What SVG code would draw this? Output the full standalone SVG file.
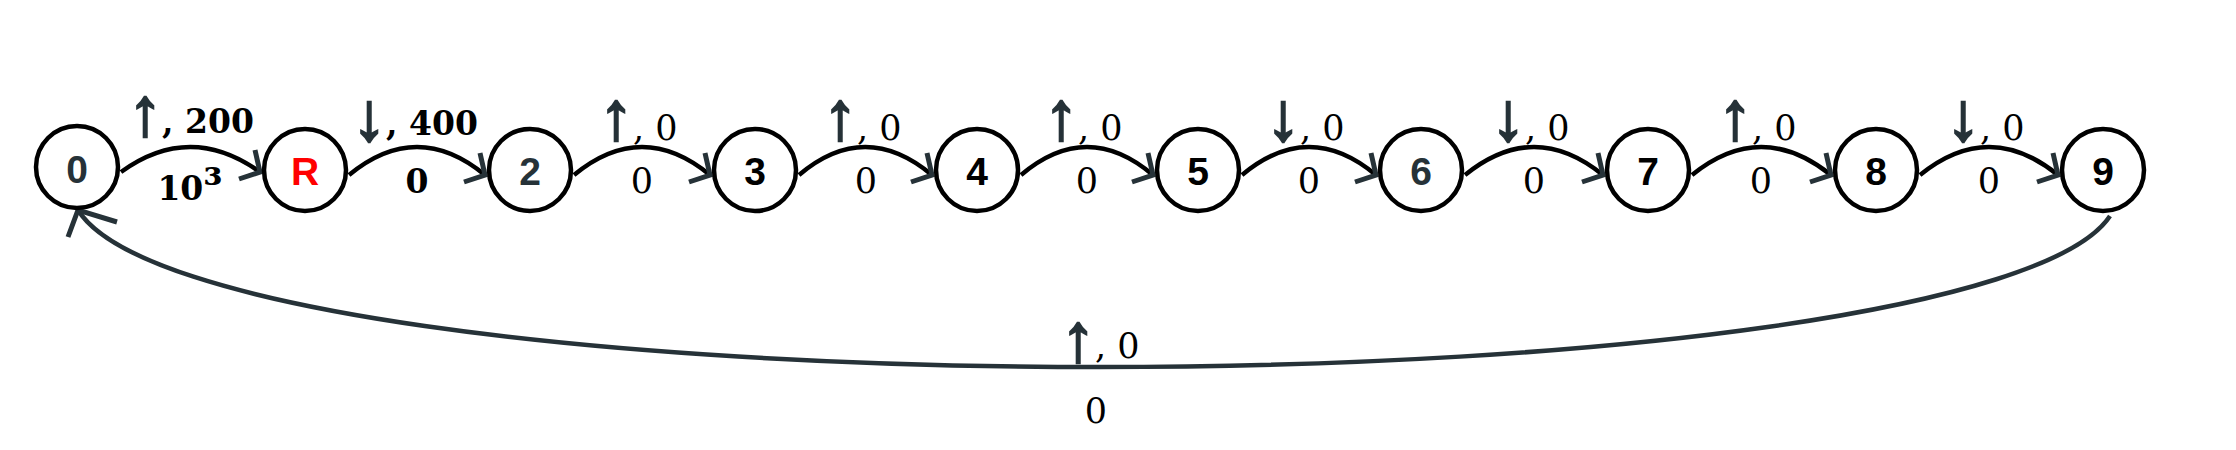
<svg xmlns="http://www.w3.org/2000/svg" width="2236" height="450" viewBox="0 0 2236 450">
<style>
.node circle{fill:#fff;stroke:#000;stroke-width:4.5}
.nl{font-family:"Liberation Sans",Arial,sans-serif;font-weight:bold;font-size:39px;text-anchor:middle;fill:#000}
.dk{fill:#263238}
.red{fill:#ff0000}
.edge{fill:none;stroke:#000;stroke-width:4.5}
.back{fill:none;stroke:#263238;stroke-width:4.5}
.lab{font-family:"DejaVu Serif",serif;font-size:35px;fill:#000}
.b{font-weight:bold;font-size:33px}
.ar{font-family:"Liberation Sans",Arial,sans-serif;font-weight:bold;font-size:68px;fill:#263238;stroke:#263238;stroke-width:2.2}
.mid{text-anchor:middle}
</style>
<defs>
<marker id="ah" markerUnits="userSpaceOnUse" orient="0" markerWidth="60" markerHeight="60" refX="30" refY="30" viewBox="0 0 60 60" overflow="visible">
<path d="M25,8 L30,30 L9,37" fill="none" stroke="#263238" stroke-width="5"/>
</marker>
<marker id="ahb" markerUnits="userSpaceOnUse" orient="0" markerWidth="90" markerHeight="90" refX="45" refY="45" viewBox="0 0 90 90" overflow="visible">
<path d="M35,72 L45,45 L84,57" fill="none" stroke="#263238" stroke-width="5"/>
</marker>
</defs>
<g id="connectors">
<path class="edge" d="M121,172 Q190,122 260,172" marker-end="url(#ah)"/>
<path class="edge" d="M349,175 Q417,119 485,175" marker-end="url(#ah)"/>
<path class="edge" d="M574,175 Q642,119 710,175" marker-end="url(#ah)"/>
<path class="edge" d="M799,175 Q865,119 932,175" marker-end="url(#ah)"/>
<path class="edge" d="M1021,175 Q1087,119 1153,175" marker-end="url(#ah)"/>
<path class="edge" d="M1242,175 Q1309,119 1376,175" marker-end="url(#ah)"/>
<path class="edge" d="M1465,175 Q1534,119 1603,175" marker-end="url(#ah)"/>
<path class="edge" d="M1692,175 Q1761,119 1831,175" marker-end="url(#ah)"/>
<path class="edge" d="M1920,175 Q1989,119 2058,175" marker-end="url(#ah)"/>
<path class="back" d="M2110,216 C2048,310 1600,367 1100,367 C600,367 140,310 78,210" marker-end="url(#ahb)"/>
<text class="lab b" x="128" y="135"><tspan class="ar">↑</tspan><tspan dy="-2">, 200</tspan></text>
<text class="lab b mid" x="190" y="200">10<tspan font-size="44">³</tspan></text>
<text class="lab b" x="352" y="140"><tspan class="ar">↓</tspan><tspan dy="-5">, 400</tspan></text>
<text class="lab b mid" x="417" y="193">0</text>
<text class="lab" x="599" y="139"><tspan class="ar">↑</tspan><tspan dy="1">, 0</tspan></text>
<text class="lab mid" x="642" y="193">0</text>
<text class="lab" x="823" y="139"><tspan class="ar">↑</tspan><tspan dy="1">, 0</tspan></text>
<text class="lab mid" x="866" y="193">0</text>
<text class="lab" x="1044" y="139"><tspan class="ar">↑</tspan><tspan dy="1">, 0</tspan></text>
<text class="lab mid" x="1087" y="193">0</text>
<text class="lab" x="1266" y="140"><tspan class="ar">↓</tspan><tspan>, 0</tspan></text>
<text class="lab mid" x="1309" y="193">0</text>
<text class="lab" x="1491" y="140"><tspan class="ar">↓</tspan><tspan>, 0</tspan></text>
<text class="lab mid" x="1534" y="193">0</text>
<text class="lab" x="1718" y="139"><tspan class="ar">↑</tspan><tspan dy="1">, 0</tspan></text>
<text class="lab mid" x="1761" y="193">0</text>
<text class="lab" x="1946" y="140"><tspan class="ar">↓</tspan><tspan>, 0</tspan></text>
<text class="lab mid" x="1989" y="193">0</text>
<text class="lab" x="1061" y="361"><tspan class="ar">↑</tspan><tspan dy="-3">, 0</tspan></text>
<text class="lab mid" x="1096" y="423">0</text>
</g>
<g id="node-0" class="node"><circle cx="77" cy="167" r="41"/><text class="nl dk" x="77" y="183">0</text></g>
<g id="node-R" class="node"><circle cx="305" cy="170" r="41"/><text class="nl red" x="305" y="185">R</text></g>
<g id="node-2" class="node"><circle cx="530" cy="170" r="41"/><text class="nl dk" x="530" y="185">2</text></g>
<g id="node-3" class="node"><circle cx="755" cy="170" r="41"/><text class="nl" x="755" y="185">3</text></g>
<g id="node-4" class="node"><circle cx="977" cy="170" r="41"/><text class="nl" x="977" y="185">4</text></g>
<g id="node-5" class="node"><circle cx="1198" cy="170" r="41"/><text class="nl" x="1198" y="185">5</text></g>
<g id="node-6" class="node"><circle cx="1421" cy="170" r="41"/><text class="nl dk" x="1421" y="185">6</text></g>
<g id="node-7" class="node"><circle cx="1648" cy="170" r="41"/><text class="nl" x="1648" y="185">7</text></g>
<g id="node-8" class="node"><circle cx="1876" cy="170" r="41"/><text class="nl" x="1876" y="185">8</text></g>
<g id="node-9" class="node"><circle cx="2103" cy="170" r="41"/><text class="nl" x="2103" y="185">9</text></g>
</svg>
